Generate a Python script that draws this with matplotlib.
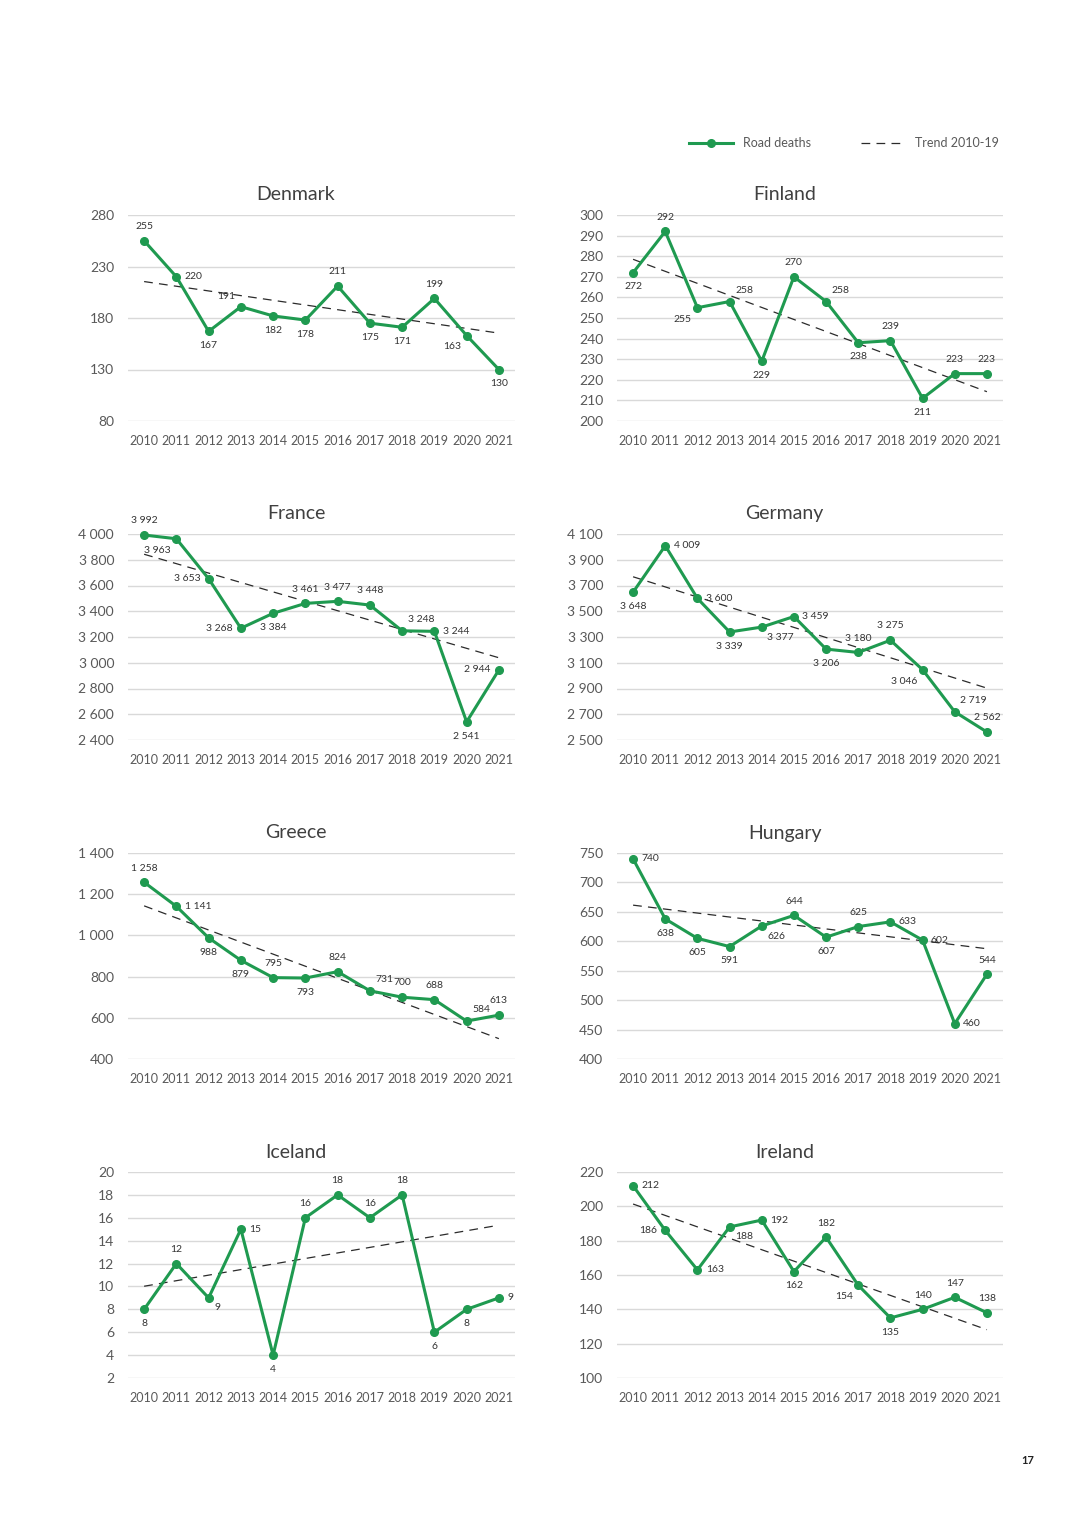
import numpy as np
import matplotlib
matplotlib.use('Agg')
import matplotlib.pyplot as plt
from matplotlib.lines import Line2D
from matplotlib.ticker import FuncFormatter

plt.rcParams['font.family'] = ['Lato', 'DejaVu Sans']

years = ['2010', '2011', '2012', '2013', '2014', '2015',
         '2016', '2017', '2018', '2019', '2020', '2021']

countries = ['Denmark', 'Finland', 'France', 'Germany',
             'Greece', 'Hungary', 'Iceland', 'Ireland']

denmark = [255, 220, 167, 191, 182, 178, 211, 175, 171, 199, 163, 130]
finland = [272, 292, 255, 258, 229, 270, 258, 238, 239, 211, 223, 223]
france = [3992, 3963, 3653, 3268, 3384, 3461, 3477, 3448, 3248, 3244, 2541, 2944]
germany = [3648, 4009, 3600, 3339, 3377, 3459, 3206, 3180, 3275, 3046, 2719, 2562]
greece = [1258, 1141, 988, 879, 795, 793, 824, 731, 700, 688, 584, 613]
hungary = [740, 638, 605, 591, 626, 644, 607, 625, 633, 602, 460, 544]
iceland = [8, 12, 9, 15, 4, 16, 18, 16, 18, 6, 8, 9]
ireland = [212, 186, 163, 188, 192, 162, 182, 154, 135, 140, 147, 138]

# y axis ranges (min, max, step)
yscales = [(80, 280, 50), (200, 300, 10), (2400, 4000, 200), (2500, 4100, 200),
           (400, 1400, 200), (400, 750, 50), (2, 20, 2), (100, 220, 20)]

# where each data label sits relative to its point
label_pos = [
    ['a', 'r', 'b', 'al', 'b', 'b', 'a', 'b', 'b', 'a', 'bl', 'b'],
    ['b', 'a', 'bl', 'ar', 'b', 'a', 'ar', 'b', 'a', 'b', 'a', 'a'],
    ['a', 'bl', 'l', 'l', 'b', 'a', 'a', 'a', 'ar', 'r', 'b', 'l'],
    ['b', 'r', 'r', 'b', 'br', 'r', 'b', 'a', 'a', 'bl', 'ar', 'a'],
    ['a', 'r', 'b', 'b', 'a', 'b', 'a', 'ar', 'a', 'a', 'ar', 'a'],
    ['r', 'b', 'b', 'b', 'br', 'a', 'b', 'a', 'r', 'r', 'r', 'a'],
    ['b', 'a', 'br', 'r', 'b', 'a', 'a', 'a', 'a', 'b', 'b', 'r'],
    ['r', 'l', 'r', 'br', 'r', 'b', 'a', 'bl', 'b', 'a', 'a', 'a'],
]
offsets = {'a': (0, 7, 'center', 'bottom'), 'b': (0, -7, 'center', 'top'),
           'r': (6, 0, 'left', 'center'), 'l': (-6, 0, 'right', 'center'),
           'ar': (4, 5, 'left', 'bottom'), 'al': (-4, 4, 'right', 'bottom'),
           'br': (4, -4, 'left', 'top'), 'bl': (-4, -5, 'right', 'top')}

green = '#1f9a50'
grid_c = '#d9d9d9'
text_c = '#595959'

fig = plt.figure(figsize=(10.8, 15.28), dpi=100)
W, H = 1080, 1528

def fmt(v, pos=None):
    return '{:,}'.format(int(v)).replace(',', ' ')

series = [denmark, finland, france, germany, greece, hungary, iceland, ireland]
lefts = [128, 617]
widths = [387, 386]
tops = [215, 534, 853, 1172]
ax_h = 206

x = np.arange(len(years))
for i, (name, vals) in enumerate(zip(countries, series)):
    col, row = i % 2, i // 2
    ax = fig.add_axes([lefts[col] / W, 1 - (tops[row] + ax_h) / H,
                       widths[col] / W, ax_h / H])
    lo, hi, step = yscales[i]
    ax.set_ylim(lo, hi)
    ax.set_yticks(np.arange(lo, hi + step / 2, step))
    ax.yaxis.set_major_formatter(FuncFormatter(fmt))
    ax.set_xlim(-0.5, len(years) - 0.5)
    ax.set_xticks(x)
    ax.set_xticklabels(years)
    for s in ax.spines.values():
        s.set_visible(False)
    ax.grid(axis='y', color=grid_c, lw=1.0)
    ax.set_axisbelow(True)
    ax.tick_params(length=0, labelsize=10, colors=text_c)
    ax.tick_params(axis='x', pad=10, labelsize=9)
    ax.tick_params(axis='y', pad=10)

    # linear trend over 2010-19, extended to 2021
    coef = np.polyfit(x[:10], vals[:10], 1)
    trend = np.polyval(coef, x)
    ax.plot(x, trend, color='#2b2b2b', lw=0.9, dashes=(7, 5), zorder=2)
    ax.plot(x, vals, color=green, lw=2.2, marker='o', ms=5.5, zorder=3,
            clip_on=False)

    for xi, v, p in zip(x, vals, label_pos[i]):
        dx, dy, ha, va = offsets[p]
        ax.annotate(fmt(v), (xi, v), xytext=(dx, dy), textcoords='offset points',
                    ha=ha, va=va, fontsize=7.5, color='#333333', zorder=4)

    ax.text(0.434, 1 + 20 / ax_h, name, transform=ax.transAxes,
            ha='center', va='center', fontsize=14, color='#404040')

handles = [Line2D([], [], color=green, lw=2.2, marker='o', ms=5.5),
           Line2D([], [], color='#2b2b2b', lw=0.9, dashes=(7, 5))]
fig.legend(handles, ['Road deaths', 'Trend 2010-19'], ncol=2, frameon=False,
           loc='center right', bbox_to_anchor=(1010 / W, 1 - 143 / H),
           fontsize=9, labelcolor=text_c, handlelength=3.5, columnspacing=4,
           handletextpad=0.8)

fig.text(1028 / W, 1 - 1460 / H, '17', ha='center', va='center',
         fontsize=8, fontweight='bold', color='#222222')

fig.savefig('out.png', dpi=100, facecolor='white')
